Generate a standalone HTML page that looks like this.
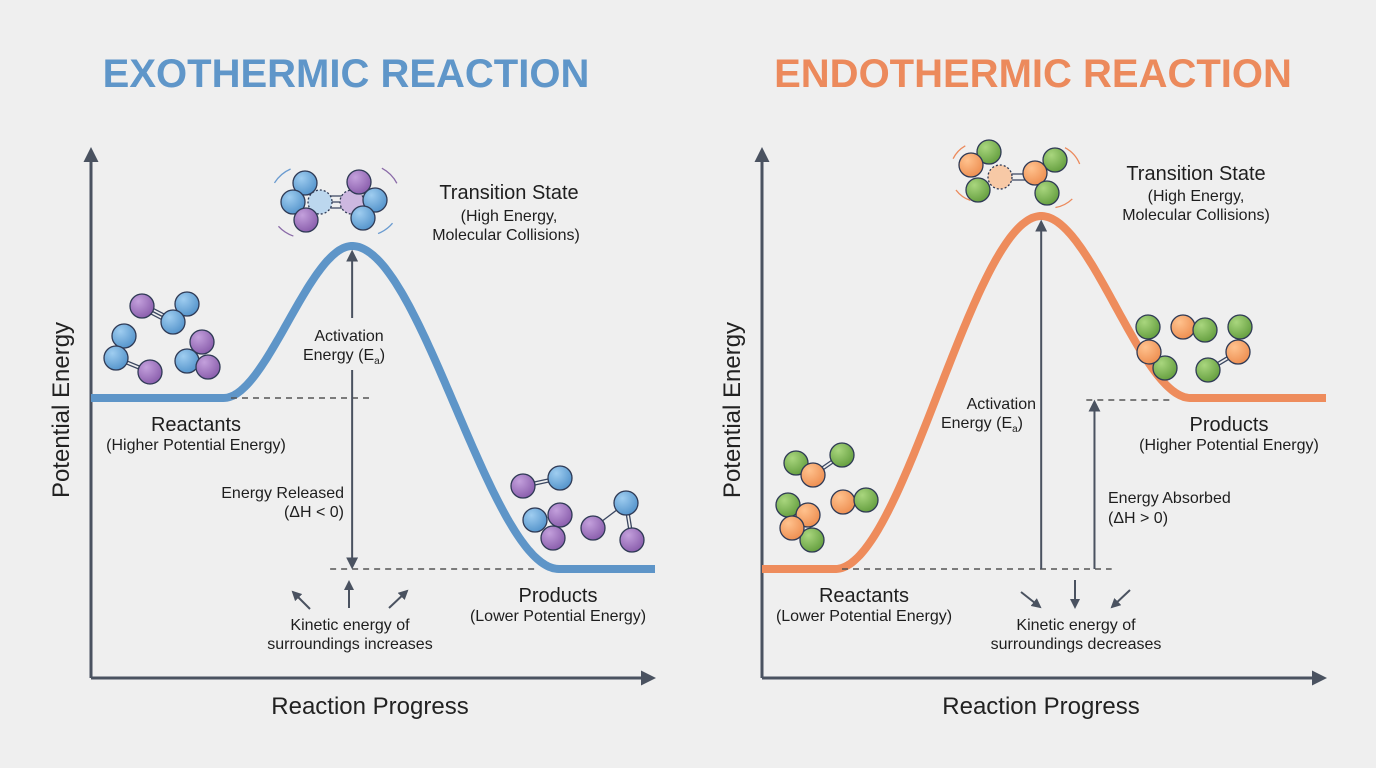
<!DOCTYPE html>
<html><head><meta charset="utf-8"><style>
html,body{margin:0;padding:0;background:#efefef;}
svg{display:block;font-family:"Liberation Sans",sans-serif;}
</style></head><body>
<svg id="chart" width="1376" height="768" viewBox="0 0 1376 768">
<defs>
<marker id="ah" viewBox="0 0 10 10" refX="8" refY="5" markerWidth="5" markerHeight="5" orient="auto-start-reverse"><path d="M0,0 L10,5 L0,10 z" fill="#4a5260"/></marker>
<marker id="ahm" viewBox="0 0 10 10" refX="8" refY="5" markerWidth="6" markerHeight="6" orient="auto-start-reverse"><path d="M0,0 L10,5 L0,10 z" fill="#4a5260"/></marker>
<marker id="ahs" viewBox="0 0 10 10" refX="8" refY="5" markerWidth="5" markerHeight="5" orient="auto-start-reverse"><path d="M0,0 L10,5 L0,10 z" fill="#4a5260"/></marker>
<radialGradient id="gb" cx="0.35" cy="0.3" r="0.8"><stop offset="0" stop-color="#9fcdf0"/><stop offset="1" stop-color="#4e8fc8"/></radialGradient>
<radialGradient id="gp" cx="0.35" cy="0.3" r="0.8"><stop offset="0" stop-color="#c3a0dc"/><stop offset="1" stop-color="#8558a8"/></radialGradient>
<radialGradient id="go" cx="0.35" cy="0.3" r="0.8"><stop offset="0" stop-color="#ffc28e"/><stop offset="1" stop-color="#ec8a4c"/></radialGradient>
<radialGradient id="gg" cx="0.35" cy="0.3" r="0.8"><stop offset="0" stop-color="#a9d67e"/><stop offset="1" stop-color="#5f9a3a"/></radialGradient>
</defs>
<text x="346" y="87" text-anchor="middle" font-size="40" font-weight="bold" fill="#5f96c9">EXOTHERMIC REACTION</text>
<text x="1033" y="87" text-anchor="middle" font-size="40" font-weight="bold" fill="#ec8a5c">ENDOTHERMIC REACTION</text>
<g id="left"></g>
<g id="right"></g>
</svg>
<script>
// energy levels [reactants, transition peak, products] in arbitrary energy units
const panels = ["exothermic", "endothermic"];
const reactantEnergy = [56, 21.8];
const peakEnergy = [86.4, 92.4];
const productEnergy = [21.8, 56];
const peakProgress = [0.463, 0.495];

const NS = "http://www.w3.org/2000/svg";
function mk(parent, tag, attrs, text) {
  const e = document.createElementNS(NS, tag);
  for (const k in attrs) e.setAttribute(k, attrs[k]);
  if (text !== undefined) e.textContent = text;
  parent.appendChild(e);
  return e;
}
const yBase = 678, yUnit = 5;
function yScale(e) { return yBase - e * yUnit; }
function xScale(i, p) { const x0 = i === 0 ? 91 : 762; return x0 + p * 564; }

const colors = ["#5e95c8", "#ee8c5c"];

function smooth(t) { t = Math.max(0, Math.min(1, t)); return t * t * (3 - 2 * t); }

function panel(i) {
  const g = document.getElementById(i === 0 ? "left" : "right");
  const x0 = xScale(i, 0), x1 = xScale(i, 1);
  let a = mk(g, "line", {x1: x0, y1: yBase, x2: x0, y2: 150, stroke: "#4a5260", "stroke-width": 3, "marker-end": "url(#ah)"});
  
  
  a = mk(g, "line", {x1: x0, y1: yBase, x2: x1 - 2, y2: yBase, stroke: "#4a5260", "stroke-width": 3, "marker-end": "url(#ah)"});
  
  
  let t = mk(g, "text", {x: x0 - 22, y: 410, "font-size": 24, "text-anchor": "middle", fill: "#222", transform: `rotate(-90 ${x0 - 22} 410)`}, "Potential Energy");
  
  
  t = mk(g, "text", {x: x0 + 279, y: 714, "font-size": 24, "text-anchor": "middle", fill: "#222"}, "Reaction Progress");
  
  

  const r = yScale(reactantEnergy[i]), p = yScale(peakEnergy[i]), q = yScale(productEnergy[i]);
  const xp = xScale(i, peakProgress[i]);
  const xs = xScale(i, i === 0 ? 0.235 : 0.13), xe = xScale(i, i === 0 ? 0.83 : 0.76);
  let d = "";
  for (let x = x0; x <= x1 + 0.1; x += 2) {
    let y;
    if (x <= xp) y = r + (p - r) * smooth((x - xs) / (xp - xs));
    else y = p + (q - p) * smooth((x - xp) / (xe - xp));
    d += (d ? "L" : "M") + x.toFixed(1) + "," + y.toFixed(1);
  }
  const c = mk(g, "path", {d: d, fill: "none", stroke: colors[i], "stroke-width": 8, "stroke-linecap": "butt"});
  
  

  const dash = {stroke: "#555", "stroke-width": 1.5, "stroke-dasharray": "6 5"};
  if (i === 0) {
    mk(g, "line", Object.assign({x1: x0 + 140, y1: r, x2: xp + 20, y2: r}, dash));
    mk(g, "line", Object.assign({x1: xp - 22, y1: q, x2: xe - 20, y2: q}, dash));
    mk(g, "line", {x1: xp, y1: r, x2: xp, y2: p + 6, stroke: "#4a5260", "stroke-width": 2, "marker-end": "url(#ahm)"});
    mk(g, "line", {x1: xp, y1: r, x2: xp, y2: q - 2, stroke: "#4a5260", "stroke-width": 2, "marker-end": "url(#ahm)"});
    mk(g, "rect", {x: xp - 8, y: 318, width: 16, height: 52, fill: "#efefef"});
  } else {
    mk(g, "line", Object.assign({x1: x0 + 80, y1: r, x2: xScale(i, 0.62), y2: r}, dash));
    mk(g, "line", Object.assign({x1: xScale(i, 0.575), y1: q + 2, x2: xe - 20, y2: q + 2}, dash));
    mk(g, "line", {x1: xp, y1: r, x2: xp, y2: p + 6, stroke: "#4a5260", "stroke-width": 2, "marker-end": "url(#ahm)"});
    mk(g, "line", {x1: xScale(i, 0.5895), y1: r, x2: xScale(i, 0.5895), y2: q + 4, stroke: "#4a5260", "stroke-width": 2, "marker-end": "url(#ahm)"});
  }
}
panel(0); panel(1);

const L = document.getElementById("left"), R = document.getElementById("right");
function txt(g, x, y, s, size, name, anchor) {
  const e = mk(g, "text", {x: x, y: y, "font-size": size, "text-anchor": anchor || "middle", fill: "#1e1e1e"}, s);
  
  
  return e;
}
txt(L, 509, 199, "Transition State", 20, "transition-state-label");
txt(L, 509, 221, "(High Energy,", 16, "transition-state-note");
txt(L, 506, 240, "Molecular Collisions)", 16, "transition-state-note");
txt(L, 349, 341, "Activation", 16, "activation-label");
const ea = txt(L, 344, 360, "Energy (E", 16, "activation-label");
mk(ea, "tspan", {"font-size": 10, dy: 4}, "a"); mk(ea, "tspan", {dy: -4}, ")");
txt(L, 196, 431, "Reactants", 20, "reactants-label");
txt(L, 196, 450, "(Higher Potential Energy)", 16, "reactants-note");
txt(L, 344, 498, "Energy Released", 16, "energy-released-label", "end");
txt(L, 344, 517, "(ΔH < 0)", 16, "delta-h-label", "end");
txt(L, 558, 602, "Products", 20, "products-label");
txt(L, 558, 621, "(Lower Potential Energy)", 16, "products-note");
txt(L, 350, 630, "Kinetic energy of", 16, "kinetic-label");
txt(L, 350, 649, "surroundings increases", 16, "kinetic-label");
txt(R, 1196, 180, "Transition State", 20, "transition-state-label");
txt(R, 1196, 201, "(High Energy,", 16, "transition-state-note");
txt(R, 1196, 220, "Molecular Collisions)", 16, "transition-state-note");
txt(R, 1036, 409, "Activation", 16, "activation-label", "end");
const ea2 = txt(R, 1023, 428, "Energy (E", 16, "activation-label", "end");
mk(ea2, "tspan", {"font-size": 10, dy: 4}, "a"); mk(ea2, "tspan", {dy: -4}, ")");
txt(R, 1229, 431, "Products", 20, "products-label");
txt(R, 1229, 450, "(Higher Potential Energy)", 16, "products-note");
txt(R, 1108, 503, "Energy Absorbed", 16, "energy-absorbed-label", "start");
txt(R, 1108, 523, "(ΔH > 0)", 16, "delta-h-label", "start");
txt(R, 864, 602, "Reactants", 20, "reactants-label");
txt(R, 864, 621, "(Lower Potential Energy)", 16, "reactants-note");
txt(R, 1076, 630, "Kinetic energy of", 16, "kinetic-label");
txt(R, 1076, 649, "surroundings decreases", 16, "kinetic-label");

function sarrow(g, x1, y1, x2, y2) {
  const e = mk(g, "line", {x1: x1, y1: y1, x2: x2, y2: y2, stroke: "#4a5260", "stroke-width": 2, "marker-end": "url(#ahs)"});
  
  
}
sarrow(L, 310, 609, 293, 592); sarrow(L, 349, 608, 349, 582); sarrow(L, 389, 608, 407, 591);
sarrow(R, 1021, 592, 1040, 607); sarrow(R, 1075, 580, 1075, 607); sarrow(R, 1130, 590, 1112, 607);

const fills = {b: "url(#gb)", p: "url(#gp)", o: "url(#go)", g: "url(#gg)",
  fb: "#bcd7ee", fp: "#cdb8e0", fo: "#f7c9a6"};
function bond(g, a, b, n) {
  const dx = b[0] - a[0], dy = b[1] - a[1], len = Math.hypot(dx, dy), nx = -dy / len * 3, ny = dx / len * 3;
  for (let k = 0; k < n; k++) {
    const o = k - (n - 1) / 2;
    mk(g, "line", {x1: a[0] + nx * o, y1: a[1] + ny * o, x2: b[0] + nx * o, y2: b[1] + ny * o, stroke: "#3a4660", "stroke-width": 1.3});
  }
}
function atoms(g, list) {
  list.forEach(a => {
    const f = a[2];
    const c = mk(g, "circle", {cx: a[0], cy: a[1], r: a[3] || 12, fill: fills[f], stroke: "#2f3a55", "stroke-width": 1.3, "stroke-dasharray": f[0] === "f" ? "2 2" : "none"});
    
    
  });
}
bond(L, [142, 306], [173, 322], 3); bond(L, [116, 358], [150, 372], 2);
atoms(L, [[142,306,"p"],[187,304,"b"],[173,322,"b"],[124,336,"b"],[116,358,"b"],[150,372,"p"],[202,342,"p"],[187,361,"b"],[208,367,"p"]]);
bond(L, [320, 196], [352, 196], 1); bond(L, [320, 202], [352, 202], 1); bond(L, [320, 208], [352, 208], 1);
atoms(L, [[320,202,"fb"],[352,202,"fp"],[305,183,"b"],[293,202,"b"],[306,220,"p"],[359,182,"p"],[375,200,"b"],[363,218,"b"]]);
bond(L, [523, 486], [560, 478], 2); bond(L, [593, 528], [626, 503], 1); bond(L, [626, 503], [632, 540], 2);
atoms(L, [[523,486,"p"],[560,478,"b"],[535,520,"b"],[560,515,"p"],[553,538,"p"],[593,528,"p"],[626,503,"b"],[632,540,"p"]]);
bond(R, [813, 475], [842, 455], 2);
atoms(R, [[796,463,"g"],[842,455,"g"],[813,475,"o"],[788,505,"g"],[812,540,"g"],[808,515,"o"],[792,528,"o"],[843,502,"o"],[866,500,"g"]]);
bond(R, [1000, 174], [1035, 174], 1); bond(R, [1000, 180], [1035, 180], 1);
atoms(R, [[1000,177,"fo"],[989,152,"g"],[971,165,"o"],[978,190,"g"],[1055,160,"g"],[1035,173,"o"],[1047,193,"g"]]);
bond(R, [1208, 370], [1238, 352], 2);
atoms(R, [[1148,327,"g"],[1165,368,"g"],[1149,352,"o"],[1183,327,"o"],[1205,330,"g"],[1240,327,"g"],[1208,370,"g"],[1238,352,"o"]]);
function arc(g, cx, cy, rr, a0, a1, col) {
  const p0 = [cx + rr * Math.cos(a0), cy + rr * Math.sin(a0)], p1 = [cx + rr * Math.cos(a1), cy + rr * Math.sin(a1)];
  mk(g, "path", {d: `M${p0[0]},${p0[1]} A${rr},${rr} 0 0 1 ${p1[0]},${p1[1]}`, fill: "none", stroke: col, "stroke-width": 1.3});
}
arc(L, 305, 202, 36, 3.7, 4.3, "#6a9bd0"); arc(L, 305, 202, 36, 1.9, 2.4, "#8a6aa8");
arc(L, 365, 200, 36, 5.2, 5.8, "#8a6aa8"); arc(L, 365, 200, 36, 0.7, 1.2, "#6a9bd0");
arc(R, 980, 172, 30, 3.6, 4.2, "#ec8a5c"); arc(R, 980, 172, 30, 1.9, 2.5, "#ec8a5c");
arc(R, 1050, 176, 32, 5.2, 5.9, "#ec8a5c"); arc(R, 1050, 176, 32, 0.8, 1.4, "#ec8a5c");
</script>
</body></html>
